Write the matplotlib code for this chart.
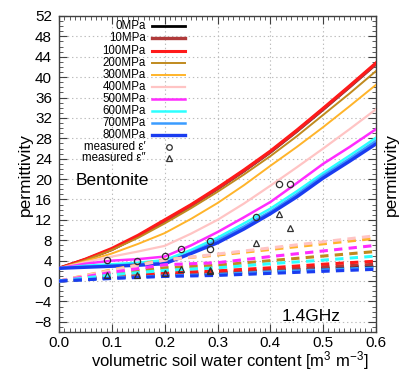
import numpy as np
import matplotlib
matplotlib.use('Agg')
import matplotlib.pyplot as plt
from matplotlib.ticker import MultipleLocator

plt.rcParams['font.family'] = ['Liberation Sans', 'DejaVu Sans']
plt.rcParams['mathtext.fontset'] = 'custom'
plt.rcParams['mathtext.rm'] = 'Liberation Sans'
plt.rcParams['mathtext.it'] = 'Liberation Sans:italic'
plt.rcParams['lines.scale_dashes'] = False

# contenido volumetrico de agua para las curvas reales (eps')
thetaReal = [0.0, 0.05, 0.1, 0.15, 0.2, 0.25, 0.3, 0.35, 0.4, 0.45, 0.5, 0.55, 0.6]
real0 = [2.5, 4.2, 6.2, 8.8, 11.8, 14.8, 18.1, 21.6, 25.3, 29.4, 33.7, 38.1, 42.6]
real10 = [2.5, 4.2, 6.2, 8.8, 11.8, 14.8, 18.1, 21.6, 25.3, 29.4, 33.7, 38.1, 42.6]
real100 = [2.5, 4.3, 6.4, 9.0, 12.0, 15.0, 18.3, 21.8, 25.5, 29.6, 33.9, 38.3, 42.8]
real200 = [2.5, 4.1, 6.1, 8.5, 11.3, 14.3, 17.5, 20.9, 24.5, 28.4, 32.6, 36.8, 41.2]
real300 = [2.5, 3.9, 5.4, 7.3, 9.4, 12.2, 15.3, 18.8, 22.6, 26.3, 30.2, 34.3, 38.5]
real400 = [2.5, 3.7, 4.8, 5.8, 6.9, 9.3, 12.0, 15.2, 18.7, 22.3, 26.0, 29.8, 33.7]
real500 = [2.5, 3.4, 4.0, 4.3, 4.8, 7.0, 9.6, 12.5, 15.5, 19.2, 23.0, 26.3, 29.8]
real600 = [2.5, 3.0, 3.3, 3.6, 4.1, 6.1, 8.5, 11.3, 14.2, 17.6, 21.2, 24.6, 28.1]
real700 = [2.5, 2.8, 3.0, 3.3, 3.6, 5.6, 8.0, 10.7, 13.6, 17.0, 20.7, 24.0, 27.5]
real800 = [2.5, 2.7, 2.9, 3.1, 3.4, 5.4, 7.5, 10.2, 13.2, 16.5, 20.2, 23.5, 26.9]

# curvas imaginarias (eps'')
thetaImag = [0.0, 0.1, 0.2, 0.3, 0.4, 0.5, 0.6]
imag0 = [0.0, 0.7, 1.1, 1.5, 2.0, 2.5, 2.9]
imag10 = [0.0, 0.8, 1.3, 1.7, 2.2, 2.8, 3.3]
imag100 = [0.0, 0.9, 1.6, 2.0, 2.6, 3.3, 3.9]
imag200 = [0.0, 1.5, 2.6, 3.1, 4.0, 4.9, 5.8]
imag300 = [0.0, 2.2, 4.2, 5.1, 6.2, 7.3, 8.4]
imag400 = [0.0, 2.1, 4.1, 5.3, 6.5, 7.7, 8.9]
imag500 = [0.0, 1.7, 3.2, 3.6, 4.8, 5.9, 7.0]
imag600 = [0.0, 1.2, 2.1, 2.6, 3.4, 4.1, 4.9]
imag700 = [0.0, 0.6, 1.0, 1.3, 1.8, 2.2, 2.6]
imag800 = [0.0, 0.5, 0.9, 1.1, 1.5, 1.9, 2.3]

# mediciones
thetaMedido = [0.0905, 0.148, 0.2005, 0.23, 0.285, 0.285, 0.372, 0.416, 0.4365]
realMedido = [4.1, 4.0, 5.0, 6.2, 7.9, 6.2, 12.6, 19.1, 19.0]
thetaMedidoImag = [0.0905, 0.148, 0.2005, 0.23, 0.285, 0.285, 0.372, 0.416, 0.4365]
imagMedido = [1.2, 1.1, 1.6, 2.35, 2.2, 2.0, 7.5, 13.1, 10.5]

presiones = ['0MPa', '10MPa', '100MPa', '200MPa', '300MPa', '400MPa',
             '500MPa', '600MPa', '700MPa', '800MPa']
colores = ['#000000', '#b03a3a', '#ff1a1a', '#c08a1e', '#ffb42a', '#ffc4c4',
           '#ff2cff', '#2cffff', '#3a9cff', '#1a3cf0']
anchos = [2.0, 2.4, 2.2, 1.4, 1.4, 1.6, 1.8, 1.8, 1.8, 2.4]

reales = [real0, real10, real100, real200, real300, real400, real500, real600, real700, real800]
imaginarias = [imag0, imag10, imag100, imag200, imag300, imag400, imag500, imag600, imag700, imag800]

xTicks = [0.0, 0.1, 0.2, 0.3, 0.4, 0.5, 0.6]
yTicks = list(range(-8, 53, 4))

grisEje = '#404040'

fig = plt.figure(figsize=(4.0, 3.72), dpi=100)
ax = fig.add_axes([0.1475, 0.1075, 0.7925, 0.8495])

for i in range(len(presiones)):
    ax.plot(thetaReal, reales[i], color=colores[i], lw=anchos[i], zorder=3)

for i in range(len(presiones)):
    ax.plot(thetaImag, imaginarias[i], color=colores[i], lw=2.2,
            dashes=(6, 4.5), zorder=3)

ax.plot(thetaMedido, realMedido, 'o', ms=4.5, mfc='none', mec='#303030', mew=0.9, zorder=5)
ax.plot(thetaMedidoImag, imagMedido, '^', ms=4.2, mfc='none', mec='#303030', mew=0.9, zorder=5)

ax.set_xlim(0, 0.6)
ax.set_ylim(-10, 52)
ax.set_xticks(xTicks)
ax.set_xticklabels(['%.1f' % v for v in xTicks])
ax.set_yticks(yTicks)
ax.set_yticklabels([str(v).replace('-', '\u2212') for v in yTicks])
ax.xaxis.set_minor_locator(MultipleLocator(0.01))
ax.yaxis.set_minor_locator(MultipleLocator(1))

ax.tick_params(which='both', direction='in', top=True, right=True,
               color=grisEje, labelsize=11, labelcolor='black')
ax.tick_params(which='major', length=6, width=0.8, pad=5)
ax.tick_params(axis='x', which='major', pad=3)
ax.tick_params(which='minor', length=3, width=0.6)
for s in ax.spines.values():
    s.set_color(grisEje)
    s.set_linewidth(1.0)
ax.grid(True, which='major', color='#bdbdbd', lw=0.8, ls=(0, (1, 2)))
ax.set_axisbelow(True)

ax.set_xlabel('volumetric soil water content [m$^3$ m$^{-3}$]', fontsize=12)
ax.xaxis.set_label_coords(0.54, -0.054)
fig.text(25 / 400, 1 - 174.5 / 372, 'permittivity', rotation=90, ha='center',
         va='center', fontsize=12.5)
fig.text(391 / 400, 1 - 174.5 / 372, 'permittivity', rotation=90, ha='center',
         va='center', fontsize=12.5)

# leyenda a mano, texto alineado a la derecha como gnuplot
yFila = 0.9674
paso = 0.0383
for i in range(len(presiones)):
    y = yFila - i * paso
    ax.text(0.274, y, presiones[i], transform=ax.transAxes, ha='right',
            va='center', fontsize=8.3)
    ax.plot([0.293, 0.397], [y, y], transform=ax.transAxes, color=colores[i],
            lw=anchos[i])
y1 = 0.5854
y2 = 0.5506
ax.text(0.274, y1, 'measured \u03b5\u2032', transform=ax.transAxes, ha='right',
        va='center', fontsize=8.3)
ax.plot([0.347], [y1], 'o', transform=ax.transAxes, ms=4.0, mfc='none',
        mec='#303030', mew=0.9)
ax.text(0.274, y2, 'measured \u03b5\u2033', transform=ax.transAxes, ha='right',
        va='center', fontsize=8.3)
ax.plot([0.347], [y2], '^', transform=ax.transAxes, ms=4.0, mfc='none',
        mec='#303030', mew=0.9)

ax.text(0.054, 0.478, 'Bentonite', transform=ax.transAxes, ha='left',
        va='center', fontsize=12.5)
ax.text(0.703, 0.049, '1.4GHz', transform=ax.transAxes, ha='left',
        va='center', fontsize=12.5)

fig.savefig('out.png', dpi=100)
